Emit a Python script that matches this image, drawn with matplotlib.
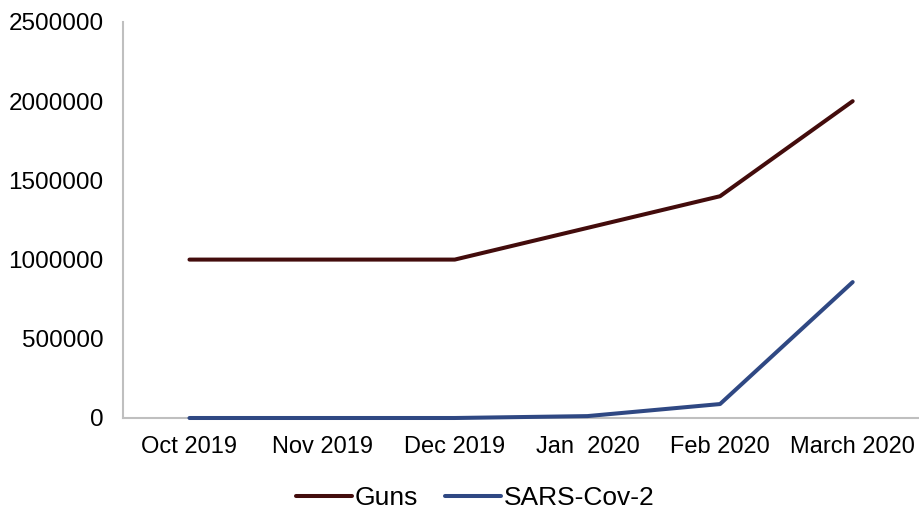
import matplotlib.pyplot as plt

months = ['Oct 2019', 'Nov 2019', 'Dec 2019', 'Jan  2020', 'Feb 2020', 'March 2020']
guns = [1000000, 1000000, 1000000, 1200000, 1400000, 2000000]
sars = [0, 0, 0, 12000, 88000, 858000]
yticks = [0, 500000, 1000000, 1500000, 2000000, 2500000]

plt.rcParams['font.family'] = ['Liberation Sans', 'DejaVu Sans']

fig = plt.figure(figsize=(9.19, 5.11), dpi=100)
ax = fig.add_axes([0.134, 0.182, 0.866, 0.775])

x = range(len(months))
ax.plot(x, guns, color='#430c0c', linewidth=2.9, label='Guns',
        solid_capstyle='round', clip_on=False, zorder=3)
ax.plot(x, sars, color='#2f4883', linewidth=2.9, label='SARS-Cov-2',
        solid_capstyle='round', clip_on=False, zorder=3)

ax.set_xlim(-0.5, len(months) - 0.5)
ax.set_ylim(0, 2500000)
ax.set_yticks(yticks)
ax.set_yticklabels([str(v) for v in yticks])
ax.set_xticks(list(x))
ax.set_xticklabels(months)
ax.tick_params(axis='both', length=0, colors='black')
ax.tick_params(axis='y', pad=14, labelsize=17.5)
ax.tick_params(axis='x', pad=13, labelsize=17)

for s in ['top', 'right']:
    ax.spines[s].set_visible(False)
for s in ['left', 'bottom']:
    ax.spines[s].set_color('#bfbfbf')
    ax.spines[s].set_linewidth(1.5)
    ax.spines[s].set_zorder(1)

fig.legend(loc='lower center', ncol=2, frameon=False, fontsize=19,
           bbox_to_anchor=(0.517, -0.045), handlelength=2.1, handletextpad=0.1,
           columnspacing=1.05)

fig.savefig('out.png', dpi=100)
